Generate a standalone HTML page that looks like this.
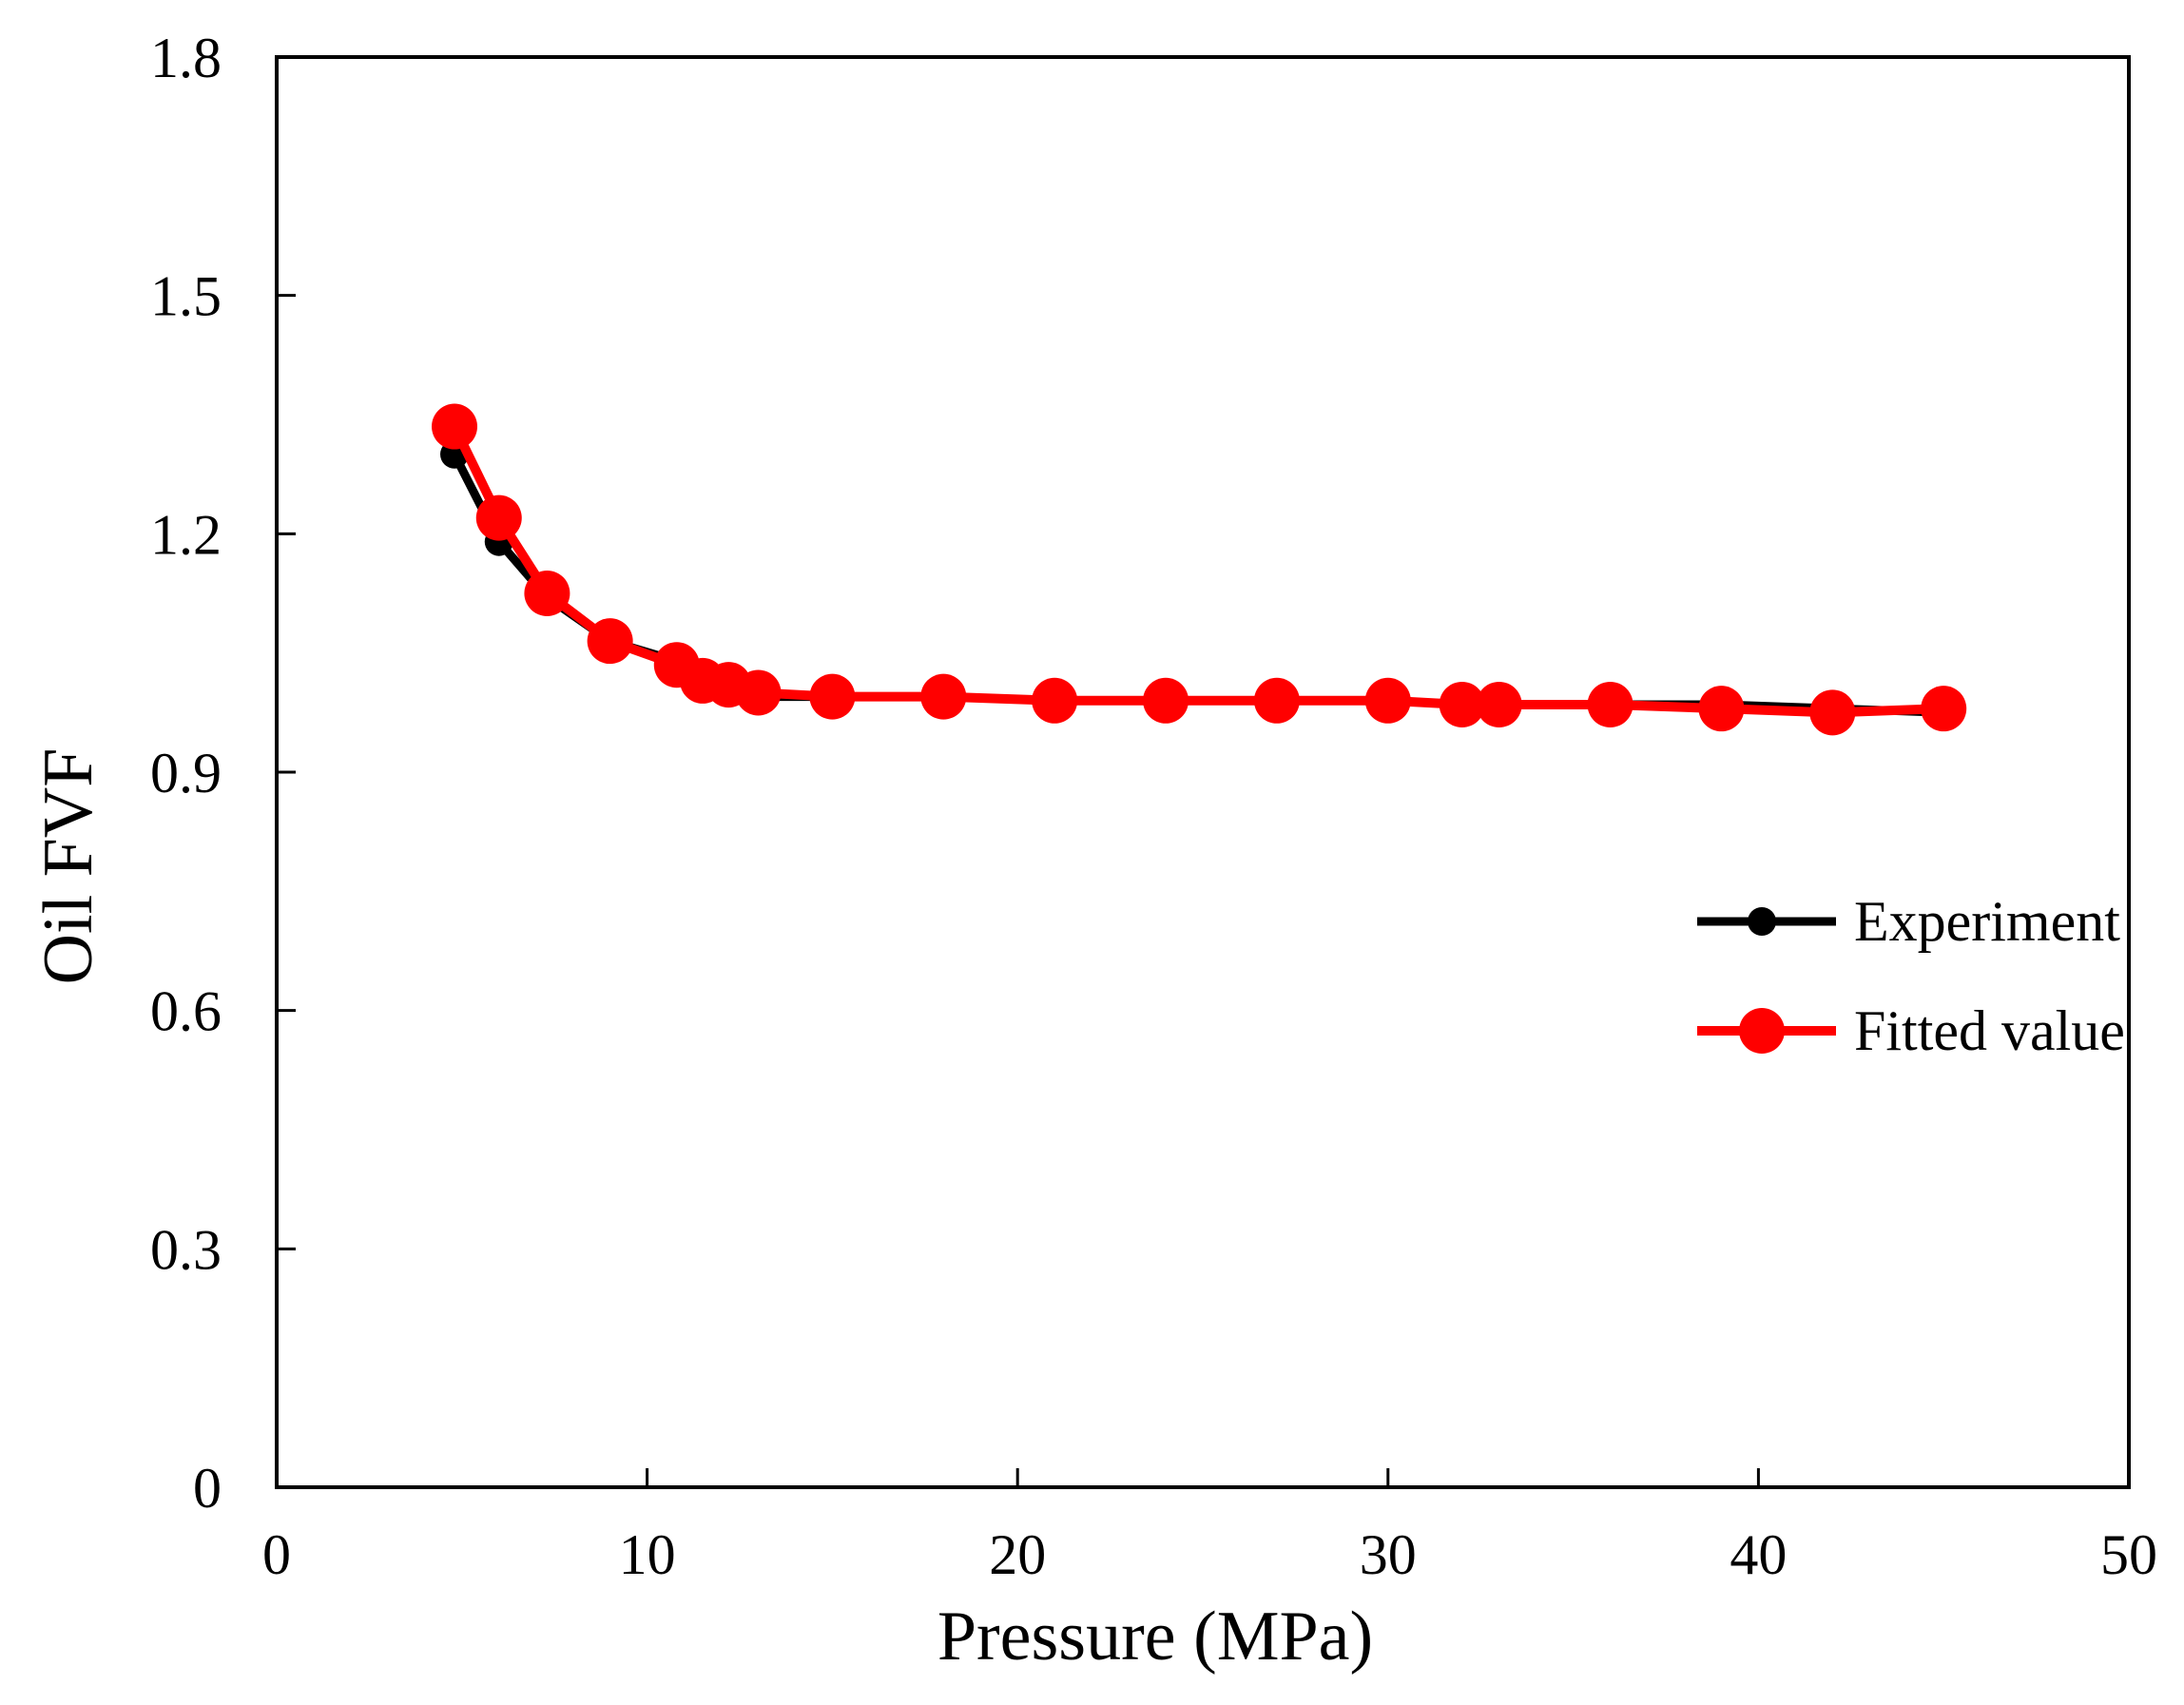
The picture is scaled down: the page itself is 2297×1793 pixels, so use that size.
<!DOCTYPE html>
<html><head><meta charset="utf-8"><style>
html,body{margin:0;padding:0;background:#fff;}
svg{display:block;font-family:"Liberation Serif",serif;}
</style></head><body>
<svg id="chart" width="2297" height="1793" viewBox="0 0 2297 1793" xmlns="http://www.w3.org/2000/svg">
<g id="axes"></g>
<g id="series"></g>
<text x="1215" y="1745" font-size="74" text-anchor="middle">Pressure (MPa)</text>
<text transform="translate(96,911) rotate(-90)" font-size="74" text-anchor="middle">Oil FVF</text>
<g>
<g>
<line x1="1785" y1="969" x2="1931" y2="969" stroke="#000" stroke-width="9"/>
<circle cx="1853" cy="969" r="15" fill="#000"/>
<text x="1950" y="989" font-size="60">Experiment</text>
</g>
<g>
<line x1="1785" y1="1084" x2="1931" y2="1084" stroke="#f00" stroke-width="10"/>
<circle cx="1853" cy="1084" r="24" fill="#f00"/>
<text x="1950" y="1104" font-size="60">Fitted value</text>
</g>
</g>
</svg>
<script>
const pressures = [4.8,6,7.3,9,10.8,11.5,12.2,13,15,18,21,24,27,30,32,33,36,39,42,45];
const experimentValues = [1.30,1.19,1.12,1.065,1.04,1.01,1.005,0.995,0.995,0.995,0.99,0.99,0.99,0.99,0.985,0.985,0.985,0.985,0.98,0.975];
const fittedValues = [1.335,1.22,1.125,1.065,1.035,1.015,1.01,1.0,0.995,0.995,0.99,0.99,0.99,0.99,0.985,0.985,0.985,0.98,0.975,0.98];
const xTicks = [0,10,20,30,40,50];
const yTicks = [0,0.3,0.6,0.9,1.2,1.5,1.8];
const yTickLabels = ["0","0.3","0.6","0.9","1.2","1.5","1.8"];

const L=291,R=2239,T=60,B=1564;
const sx=v=>L+(v-0)/(50-0)*(R-L);
const sy=v=>B-(v-0)/(1.8-0)*(B-T);
const NS="http://www.w3.org/2000/svg";
function mk(tag,attrs,parent){const e=document.createElementNS(NS,tag);for(const k in attrs)e.setAttribute(k,attrs[k]);parent.appendChild(e);return e;}
const axes=document.getElementById('axes');
const frame=mk('rect',{x:L,y:T,width:R-L,height:B-T,fill:'none',stroke:'#000','stroke-width':4},axes);


xTicks.forEach(v=>{
  const t=mk('line',{x1:sx(v),x2:sx(v),y1:B,y2:B-20,stroke:'#000','stroke-width':3},axes);
  
  
  const l=mk('text',{x:sx(v),y:1655,'font-size':60,'text-anchor':'middle'},axes);
  l.textContent=String(v);
  
  
});
yTicks.forEach((v,i)=>{
  const t=mk('line',{x1:L,x2:L+20,y1:sy(v),y2:sy(v),stroke:'#000','stroke-width':3},axes);
  
  
  const l=mk('text',{x:233,y:sy(v)+21,'font-size':60,'text-anchor':'end'},axes);
  l.textContent=yTickLabels[i];
  
  
});
const series=document.getElementById('series');
function draw(vals,color,w,r,name){
  const g=mk('g',{},series);
  
  
  const pts=pressures.map((p,i)=>sx(p)+','+sy(vals[i])).join(' ');
  const pl=mk('polyline',{points:pts,fill:'none',stroke:color,'stroke-width':w,'stroke-linejoin':'round'},g);
  
  
  pressures.forEach((p,i)=>{
    const c=mk('circle',{cx:sx(p),cy:sy(vals[i]),r:r,fill:color},g);
    
    
  });
}
draw(experimentValues,'#000',9,15,'experiment');
draw(fittedValues,'#f00',10,24,'fitted');
</script>
</body></html>
